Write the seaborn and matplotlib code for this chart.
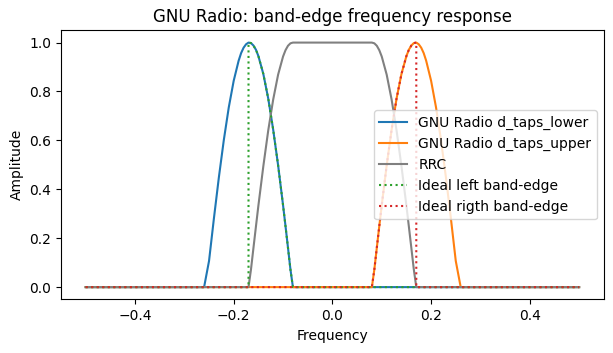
import pandas as pd
import seaborn as sns
import matplotlib
matplotlib.use("Agg")
import matplotlib.pyplot as plt

# frequency grid (curves are zero outside -0.26..0.26)
freq = [-0.5, -0.26, -0.25, -0.24, -0.23, -0.22, -0.21, -0.20, -0.19, -0.185, -0.18, -0.175, -0.17,
        -0.165, -0.16, -0.155, -0.15, -0.14, -0.13, -0.12, -0.11, -0.10, -0.095, -0.09, -0.085, -0.08,
        -0.07, 0.0, 0.07,
        0.08, 0.085, 0.09, 0.095, 0.10, 0.11, 0.12, 0.13, 0.14, 0.15, 0.155, 0.16, 0.165, 0.17,
        0.175, 0.18, 0.185, 0.19, 0.20, 0.21, 0.22, 0.23, 0.24, 0.25, 0.26, 0.5]

taps_lower = [0, 0, 0.107, 0.283, 0.450, 0.602, 0.735, 0.844, 0.926, 0.957, 0.979, 0.993, 1.000,
              0.998, 0.988, 0.971, 0.945, 0.872, 0.771, 0.644, 0.498, 0.335, 0.249, 0.161, 0.072, 0,
              0, 0, 0,
              0, 0, 0, 0, 0, 0, 0, 0, 0, 0, 0, 0, 0, 0,
              0, 0, 0, 0, 0, 0, 0, 0, 0, 0, 0, 0]

taps_upper = [0, 0, 0, 0, 0, 0, 0, 0, 0, 0, 0, 0, 0,
              0, 0, 0, 0, 0, 0, 0, 0, 0, 0, 0, 0, 0,
              0, 0, 0,
              0, 0.072, 0.161, 0.249, 0.335, 0.498, 0.644, 0.771, 0.872, 0.945, 0.971, 0.988, 0.998, 1.000,
              0.993, 0.979, 0.957, 0.926, 0.844, 0.735, 0.602, 0.450, 0.283, 0.107, 0, 0]

rrc = [0, 0, 0, 0, 0, 0, 0, 0, 0, 0, 0, 0, 0,
       0.072, 0.160, 0.247, 0.333, 0.494, 0.641, 0.767, 0.869, 0.943, 0.969, 0.987, 0.997, 1.0,
       1.0, 1.0, 1.0,
       1.0, 0.997, 0.987, 0.969, 0.943, 0.869, 0.767, 0.641, 0.494, 0.333, 0.247, 0.160, 0.072, 0,
       0, 0, 0, 0, 0, 0, 0, 0, 0, 0, 0, 0]

# ideal band edges (vertical jump at the band edge)
left_f = [-0.5, -0.17, -0.17, -0.165, -0.16, -0.155, -0.15, -0.14, -0.13, -0.12, -0.11, -0.10,
          -0.095, -0.09, -0.085, -0.08, 0.5]
left_a = [0, 0, 1.0, 0.998, 0.988, 0.971, 0.945, 0.872, 0.771, 0.644, 0.498, 0.335,
          0.249, 0.161, 0.072, 0, 0]
right_f = [-0.5, 0.08, 0.085, 0.09, 0.095, 0.10, 0.11, 0.12, 0.13, 0.14, 0.15, 0.155, 0.16,
           0.165, 0.17, 0.17, 0.5]
right_a = [0, 0, 0.072, 0.161, 0.249, 0.335, 0.498, 0.644, 0.771, 0.872, 0.945, 0.971, 0.988,
           0.998, 1.0, 0, 0]

df = pd.DataFrame({"freq": freq, "lower": taps_lower, "upper": taps_upper, "rrc": rrc})

plt.figure(figsize=(6.13, 3.53), dpi=100)
ax = plt.gca()
sns.lineplot(data=df, x="freq", y="lower", color="C0", estimator=None, sort=False,
             label="GNU Radio d_taps_lower", ax=ax)
sns.lineplot(data=df, x="freq", y="upper", color="C1", estimator=None, sort=False,
             label="GNU Radio d_taps_upper", ax=ax)
sns.lineplot(data=df, x="freq", y="rrc", color="gray", estimator=None, sort=False,
             label="RRC", ax=ax)
sns.lineplot(x=left_f, y=left_a, color="C2", linestyle=":", estimator=None, sort=False,
             label="Ideal left band-edge", ax=ax)
sns.lineplot(x=right_f, y=right_a, color="C3", linestyle=":", estimator=None, sort=False,
             label="Ideal rigth band-edge", ax=ax)

ax.set_title("GNU Radio: band-edge frequency response")
ax.set_xlabel("Frequency")
ax.set_ylabel("Amplitude")
ax.legend(loc="center right")
plt.subplots_adjust(left=0.0995, right=0.985, top=0.914, bottom=0.152)
plt.savefig("out.png", dpi=100)
